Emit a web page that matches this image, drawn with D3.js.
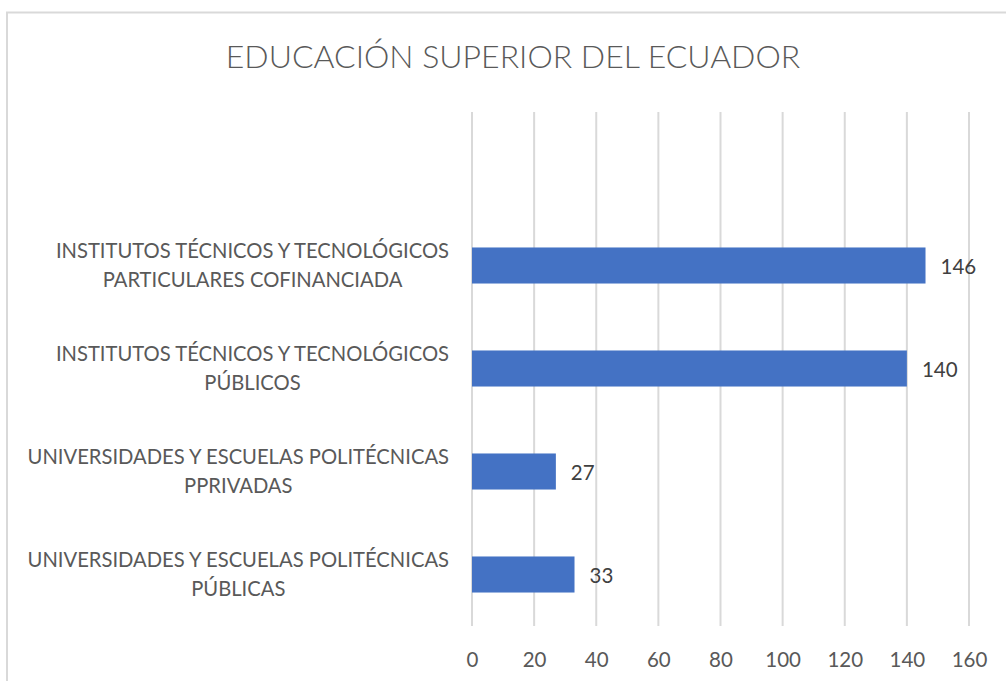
<!DOCTYPE html>
<html>
<head>
<meta charset="utf-8">
<script src="https://cdn.jsdelivr.net/npm/d3@7"></script>
<style>
  html, body { margin: 0; padding: 0; background: #ffffff; }
  svg { display: block; }
</style>
</head>
<body>
<svg id="chart" width="1006" height="681"></svg>
<script>
const title = "EDUCACIÓN SUPERIOR DEL ECUADOR";
const categories = [
  ["INSTITUTOS TÉCNICOS Y TECNOLÓGICOS", "PARTICULARES COFINANCIADA"],
  ["INSTITUTOS TÉCNICOS Y TECNOLÓGICOS", "PÚBLICOS"],
  ["UNIVERSIDADES Y ESCUELAS POLITÉCNICAS", "PPRIVADAS"],
  ["UNIVERSIDADES Y ESCUELAS POLITÉCNICAS", "PÚBLICAS"]
];
const values = [146, 140, 27, 33];
const xTicks = [0, 20, 40, 60, 80, 100, 120, 140, 160];

const FONT = "Lato, 'Open Sans', 'Liberation Sans', sans-serif";
const svg = d3.select("#chart");

// chart border
svg.append("rect")
  .attr("x", 7).attr("y", 12.5)
  .attr("width", 1010).attr("height", 690)
  .attr("fill", "#ffffff")
  .attr("stroke", "#d9d9d9").attr("stroke-width", 2);

const x = d3.scaleLinear().domain([0, 160]).range([472, 969]);
const keys = categories.map((c, i) => i);
const y = d3.scaleBand().domain(keys).range([214, 626]).paddingInner(0.65).paddingOuter(0.325);

const gridTop = 112, gridBottom = 626;

// gridlines
svg.append("g").selectAll("line").data(xTicks).join("line")
  .attr("x1", d => x(d)).attr("x2", d => x(d))
  .attr("y1", gridTop).attr("y2", gridBottom)
  .attr("stroke", "#d9d9d9").attr("stroke-width", 2);

// x axis tick labels
const xAxis = d3.axisBottom(x).tickValues(xTicks).tickSize(0).tickPadding(0);
const gx = svg.append("g").attr("transform", `translate(0, 660)`).call(xAxis);
gx.select(".domain").remove();
gx.selectAll("text")
  .attr("font-family", FONT).attr("font-size", 20.5).attr("fill", "#595959")
  .attr("dy", "0.35em");

// bars
svg.append("g").selectAll("rect").data(values).join("rect")
  .attr("x", x(0)).attr("y", (d, i) => y(i))
  .attr("width", d => x(d) - x(0)).attr("height", y.bandwidth())
  .attr("fill", "#4472c4");

// value labels
svg.append("g").selectAll("text").data(values).join("text")
  .attr("x", d => x(d) + 15).attr("y", (d, i) => y(i) + y.bandwidth() / 2 + 1.5)
  .attr("dy", "0.35em")
  .attr("font-family", FONT).attr("font-size", 20.5).attr("fill", "#404040")
  .text(d => d);

// category labels (wrapped, centered block, right edge aligned)
const labelRight = 449;
categories.forEach((lines, i) => {
  const g = svg.append("g");
  const cy = y(i) + y.bandwidth() / 2;
  const texts = lines.map((ln, j) => g.append("text")
    .attr("font-family", FONT).attr("font-size", 20.2).attr("fill", "#595959")
    .attr("text-anchor", "middle")
    .attr("y", cy + (j - (lines.length - 1) / 2) * 29)
    .attr("dy", "0.35em")
    .text(ln));
  const maxW = d3.max(texts, t => t.node().getComputedTextLength());
  texts.forEach(t => t.attr("x", labelRight - maxW / 2));
});

// title
svg.append("text")
  .attr("x", 513).attr("y", 57).attr("dy", "0.35em")
  .attr("text-anchor", "middle")
  .attr("font-family", FONT).attr("font-weight", 300).attr("font-size", 32)
  .attr("fill", "#595959")
  .text(title);
</script>
</body>
</html>
